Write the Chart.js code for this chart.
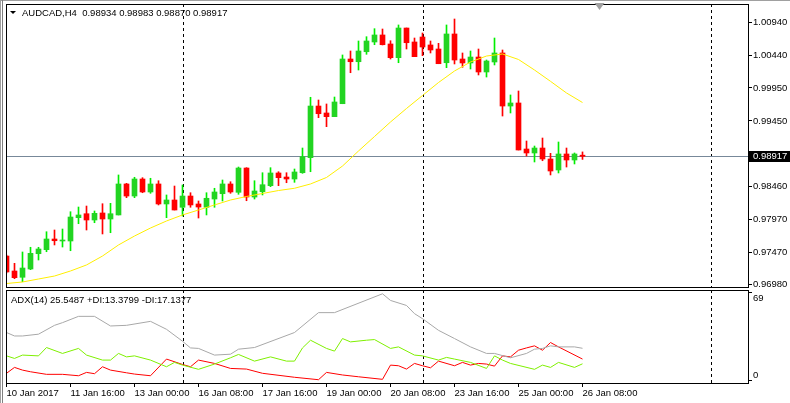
<!DOCTYPE html>
<html>
<head>
<meta charset="utf-8">
<script src="https://cdn.jsdelivr.net/npm/chart.js@4.4.1/dist/chart.umd.min.js"></script>
<style>
  body { margin: 0; background: #fff; width: 790px; height: 403px; overflow: hidden; position: relative; }
  canvas { position: absolute; left: 0; }
  #grafico { top: 0; }
  #graficoAdx { top: 286px; }
  .borda { position: absolute; }
</style>
</head>
<body>
<div class="borda" style="left:0;top:0;width:790px;height:1px;background:#a0a0a0"></div>
<div class="borda" style="left:0;top:0;width:1px;height:403px;background:#a0a0a0"></div>
<div class="borda" style="left:2px;top:0;width:1px;height:403px;background:#808080"></div>
<canvas id="grafico" width="790" height="300"></canvas>
<canvas id="graficoAdx" width="790" height="117"></canvas>
<script>
// AUDCAD H4, barras de 10 Jan 08:00 ate 26 Jan 08:00
const simbolo = "AUDCAD,H4";

const opens = [0.97411, 0.97185, 0.97090, 0.97215, 0.97446, 0.97507, 0.97668, 0.97638, 0.97638, 0.97990,
  0.98050, 0.97955, 0.98061, 0.97970, 0.98031, 0.98499, 0.98317, 0.98574, 0.98378, 0.98499,
  0.98197, 0.98257, 0.98147, 0.98317, 0.98197, 0.98147, 0.98272, 0.98352, 0.98499, 0.98373,
  0.98740, 0.98302, 0.98382, 0.98473, 0.98665, 0.98604, 0.98574, 0.98669, 0.98896, 0.99676,
  0.99571, 0.99515, 0.99711, 1.00386, 1.00345, 1.00496, 1.00643, 1.00749, 1.00613, 1.00406,
  1.00854, 1.00643, 1.00718, 1.00598, 1.00537, 1.00330, 1.00764, 1.00386, 1.00326, 1.00416,
  1.00190, 1.00341, 1.00477, 0.99676, 0.99722, 0.99027, 0.98967, 0.99042, 0.98876, 0.98710,
  0.98952, 0.98861, 0.98934];
const highs = [0.97427, 0.97301, 0.97472, 0.97543, 0.97543, 0.97778, 0.97804, 0.97819, 0.98080, 0.98151,
  0.98166, 0.98091, 0.98201, 0.98207, 0.98635, 0.98509, 0.98600, 0.98594, 0.98585, 0.98548,
  0.98333, 0.98468, 0.98484, 0.98367, 0.98242, 0.98367, 0.98434, 0.98559, 0.98533, 0.98755,
  0.98745, 0.98548, 0.98669, 0.98745, 0.98684, 0.98669, 0.98725, 0.99042, 0.99808, 0.99767,
  0.99707, 0.99812, 1.00447, 1.00507, 1.00658, 1.00723, 1.00844, 1.00839, 1.00662, 1.00900,
  1.00854, 1.00703, 1.00779, 1.00658, 1.00623, 1.00900, 1.00990, 1.00477, 1.00507, 1.00537,
  1.00371, 1.00703, 1.00522, 0.99843, 0.99903, 0.99148, 0.99072, 0.99193, 0.98962, 0.99133,
  0.99042, 0.98967, 0.98983];
const lows = [0.97155, 0.97069, 0.97023, 0.97205, 0.97351, 0.97476, 0.97578, 0.97547, 0.97491, 0.97899,
  0.97804, 0.97914, 0.97744, 0.97763, 0.98031, 0.98292, 0.98292, 0.98367, 0.98358, 0.98182,
  0.97990, 0.98106, 0.98015, 0.98147, 0.97985, 0.98031, 0.98147, 0.98242, 0.98358, 0.98343,
  0.98246, 0.98272, 0.98333, 0.98458, 0.98473, 0.98518, 0.98524, 0.98660, 0.98684, 0.99500,
  0.99364, 0.99515, 0.99711, 1.00179, 1.00220, 1.00457, 1.00602, 1.00598, 1.00386, 1.00330,
  1.00537, 1.00421, 1.00436, 1.00477, 1.00315, 1.00255, 1.00311, 1.00261, 1.00235, 1.00145,
  1.00114, 1.00296, 0.99525, 0.99571, 0.99012, 0.98921, 0.98831, 0.98850, 0.98635, 0.98665,
  0.98755, 0.98801, 0.98870];
const closes = [0.97170, 0.97084, 0.97230, 0.97452, 0.97517, 0.97668, 0.97642, 0.97653, 0.98000, 0.98031,
  0.97955, 0.98056, 0.97970, 0.98050, 0.98499, 0.98317, 0.98574, 0.98378, 0.98499, 0.98197,
  0.98257, 0.98106, 0.98317, 0.98182, 0.98151, 0.98283, 0.98378, 0.98499, 0.98378, 0.98740,
  0.98302, 0.98393, 0.98488, 0.98665, 0.98594, 0.98574, 0.98680, 0.98911, 0.99676, 0.99560,
  0.99515, 0.99737, 1.00386, 1.00345, 1.00507, 1.00658, 1.00749, 1.00602, 1.00406, 1.00854,
  1.00632, 1.00421, 1.00567, 1.00522, 1.00315, 1.00764, 1.00371, 1.00326, 1.00416, 1.00190,
  1.00356, 1.00477, 0.99676, 0.99722, 0.99012, 0.98967, 0.99042, 0.98876, 0.98695, 0.98952,
  0.98861, 0.98952, 0.98917];

// media movel (linha amarela), lida a cada 2 barras
const maBars = [0, 2, 4, 6, 8, 10, 12, 14, 16, 18, 20, 22, 24, 26, 28, 30, 32, 34, 36,
  38, 40, 42, 44, 46, 48, 50, 52, 54, 56, 58, 60, 62, 64, 66, 68, 70, 72];
const maValues = [0.96996, 0.97019, 0.97064, 0.97109, 0.97185, 0.97276, 0.97411, 0.97578, 0.97713, 0.97834,
  0.97940, 0.98031, 0.98106, 0.98182, 0.98257, 0.98310, 0.98355, 0.98400, 0.98434,
  0.98499, 0.98597, 0.98770, 0.98997, 0.99216, 0.99435, 0.99639, 0.99835, 1.00031, 1.00205,
  1.00341, 1.00431, 1.00462, 1.00379, 1.00220, 1.00049, 0.99873, 0.99729];

// ADX(14)
const adxBars = [0, 1, 2, 4, 6, 7, 9, 11, 13, 15, 18, 20, 22, 23, 24, 26, 28, 29, 31, 36,
  39, 41, 47, 48, 50, 51, 52, 54, 56, 58, 60, 61, 63, 65, 66, 67, 68, 69, 71, 72];
const adxValues = [37.8, 35.1, 35.1, 36.5, 43.4, 45.5, 50.4, 50.4, 42.9, 43.4, 46.5, 40.3, 31.0, 25.8, 25.4, 20.2, 20.9, 24.8, 26.1, 37.8,
  53.3, 53.3, 68.0, 62.8, 58.9, 52.5, 48.6, 39.5, 33.1, 26.6, 21.5, 21.5, 18.1, 21.5, 24.8, 25.4, 27.4, 26.6, 26.6, 25.5];
const plusDiBars = [0, 1, 2, 4, 5, 7, 9, 10, 12, 13, 14, 15, 16, 18, 20, 21, 22, 24, 26, 28,
  29, 31, 33, 35, 36, 37, 38, 40, 41, 42, 43, 45, 46, 48, 49, 51, 52, 54, 55, 56,
  58, 60, 61, 62, 63, 66, 67, 68, 69, 71, 72];
const plusDiValues = [19.6, 17.6, 20.2, 19.6, 26.1, 21.5, 25.4, 20.2, 16.3, 16.3, 21.5, 18.8, 19.6, 16.3, 11.1, 14.5, 12.4, 9.1, 13.2, 18.1,
  20.7, 15.5, 18.8, 15.5, 15.5, 25.8, 31.8, 25.4, 23.3, 33.1, 30.5, 31.8, 32.3, 25.4, 26.6, 20.2, 19.6, 16.3, 18.4, 17.1,
  14.5, 9.8, 19.6, 16.3, 13.7, 9.1, 12.4, 10.6, 14.5, 10.6, 13.4];
const minusDiBars = [0, 1, 2, 3, 5, 7, 9, 10, 11, 12, 13, 15, 16, 18, 20, 22, 23, 24, 26, 28,
  30, 32, 36, 39, 40, 42, 44, 47, 48, 49, 50, 51, 52, 53, 54, 56, 57, 58, 59, 60,
  61, 62, 63, 64, 65, 66, 67, 68, 69, 72];
const minusDiValues = [6.0, 10.6, 8.5, 7.2, 5.2, 5.2, 4.1, 6.7, 5.7, 11.1, 8.5, 6.4, 5.4, 4.1, 17.1, 12.9, 11.1, 16.3, 13.7, 9.8,
  9.3, 6.0, 2.9, 1.0, 6.7, 4.7, 3.3, 1.3, 12.4, 11.9, 9.3, 13.7, 11.9, 10.3, 15.5, 11.9, 14.5, 12.4, 13.7, 13.2,
  11.6, 19.6, 18.8, 24.0, 25.8, 27.4, 24.0, 30.0, 26.6, 17.1];
const adxTexto = "ADX(14) 25.5487 +DI:13.3799 -DI:17.1377";
const adxEscala = [0, 69];

// eixos
const priceTicks = [1.0094, 1.0044, 0.9995, 0.9945, 0.9846, 0.9797, 0.9747, 0.9698];
const timeTickBars = [0, 8, 16, 24, 32, 40, 48, 56, 64, 72];
const timeLabels = ["10 Jan 2017", "11 Jan 16:00", "13 Jan 00:00", "16 Jan 08:00", "17 Jan 16:00",
  "19 Jan 00:00", "20 Jan 08:00", "23 Jan 16:00", "25 Jan 00:00", "26 Jan 08:00"];
const separadores = [22, 52, 88]; // linhas tracejadas verticais

const fonte = "'Liberation Sans', Arial, sans-serif";
Chart.defaults.font.family = fonte;
Chart.defaults.font.size = 9.5;
Chart.defaults.color = "#000";

const corAltaCorpo = "#22d422";
const corAltaPavio = "#00ee00";
const corBaixa = "#ff0000";

const xMin = -0.0625;
const xMax = 92.6875;

const ultimo = closes.length - 1;
const alta = opens.map((o, i) => closes[i] >= o);

function pontos(bars, vals) {
  return bars.map((b, k) => ({ x: b, y: vals[k] }));
}

function desenharSeparadores(chart) {
  const { ctx, chartArea } = chart;
  const x = chart.scales.x;
  ctx.save();
  ctx.strokeStyle = "#000";
  ctx.lineWidth = 1;
  ctx.setLineDash([3, 3]);
  separadores.forEach((b) => {
    const px = Math.round(x.getPixelForValue(b)) + 0.5;
    ctx.beginPath();
    ctx.moveTo(px, chartArea.top);
    ctx.lineTo(px, chartArea.bottom);
    ctx.stroke();
  });
  ctx.restore();
}

function desenharMoldura(chart) {
  const { ctx, chartArea } = chart;
  ctx.save();
  ctx.strokeStyle = "#000";
  ctx.lineWidth = 1;
  ctx.strokeRect(chartArea.left + 0.5, chartArea.top + 0.5, chartArea.right - chartArea.left, chartArea.bottom - chartArea.top);
  ctx.restore();
}

const pluginPreco = {
  id: "preco",
  beforeDatasetsDraw(chart) {
    desenharSeparadores(chart);
    // linha do preco atual
    const { ctx, chartArea } = chart;
    const py = Math.round(chart.scales.y.getPixelForValue(closes[ultimo])) + 0.5;
    ctx.save();
    ctx.strokeStyle = "#778899";
    ctx.lineWidth = 1;
    ctx.beginPath();
    ctx.moveTo(chartArea.left, py);
    ctx.lineTo(chartArea.right, py);
    ctx.stroke();
    ctx.restore();
  },
  afterDraw(chart) {
    desenharMoldura(chart);
    const { ctx, chartArea } = chart;
    ctx.save();
    // cabecalho
    ctx.fillStyle = "#000";
    ctx.beginPath();
    ctx.moveTo(10, 11);
    ctx.lineTo(16, 11);
    ctx.lineTo(13, 14);
    ctx.closePath();
    ctx.fill();
    ctx.font = "9.5px " + fonte;
    ctx.textBaseline = "middle";
    const ohlc = [opens, highs, lows, closes].map((a) => a[ultimo].toFixed(5)).join(" ");
    ctx.fillText(simbolo + "  " + ohlc, 22, 13);

    // marcador de deslocamento do grafico
    const sx = Math.round(chart.scales.x.getPixelForValue(ultimo + 2)) + 0.5;
    ctx.fillStyle = "#a0a0a0";
    ctx.beginPath();
    ctx.moveTo(sx - 5, chartArea.top - 1);
    ctx.lineTo(sx + 5, chartArea.top - 1);
    ctx.lineTo(sx, chartArea.top + 6);
    ctx.closePath();
    ctx.fill();

    // etiqueta do preco atual
    const py = Math.round(chart.scales.y.getPixelForValue(closes[ultimo]));
    ctx.fillStyle = "#000";
    ctx.fillRect(chartArea.right + 1, py - 5, 41, 11);
    ctx.fillStyle = "#fff";
    ctx.fillText(closes[ultimo].toFixed(5), chartArea.right + 5, py + 0.5);
    ctx.restore();
  },
};

new Chart(document.getElementById("grafico"), {
  type: "bar",
  data: {
    datasets: [
      {
        type: "line",
        label: "MA",
        data: pontos(maBars, maValues),
        borderColor: "#ffee00",
        borderWidth: 1,
        pointRadius: 0,
        tension: 0,
        order: 1,
      },
      {
        label: "Corpo",
        data: opens.map((o, i) => ({ x: i, y: [o, closes[i]] })),
        backgroundColor: alta.map((a) => (a ? corAltaCorpo : corBaixa)),
        barThickness: 5,
        minBarLength: 1,
        grouped: false,
        order: 2,
      },
      {
        label: "Pavio",
        data: lows.map((l, i) => ({ x: i, y: [l, highs[i]] })),
        backgroundColor: alta.map((a) => (a ? corAltaPavio : corBaixa)),
        barThickness: 1,
        grouped: false,
        order: 3,
      },
    ],
  },
  plugins: [pluginPreco],
  options: {
    responsive: false,
    animation: false,
    devicePixelRatio: 1,
    layout: { padding: { left: 6, top: 4, right: 0, bottom: 13 } },
    plugins: { legend: { display: false }, tooltip: { enabled: false } },
    scales: {
      x: { type: "linear", min: xMin, max: xMax, offset: false, display: false },
      y: {
        position: "right",
        min: 0.969433,
        max: 1.012166,
        afterFit: (s) => {
          s.width = 42;
          s.paddingTop = 0;
          s.paddingBottom = 0;
        },
        afterBuildTicks: (s) => {
          s.ticks = priceTicks.map((v) => ({ value: v }));
        },
        ticks: { callback: (v) => v.toFixed(5), padding: 1, color: "#000" },
        grid: { drawOnChartArea: false, color: "#000", tickLength: 4 },
        border: { display: false },
      },
    },
  },
});

const pluginAdx = {
  id: "adx",
  beforeDatasetsDraw(chart) {
    desenharSeparadores(chart);
  },
  afterDraw(chart) {
    desenharMoldura(chart);
    const { ctx, chartArea } = chart;
    ctx.save();
    ctx.fillStyle = "#000";
    ctx.font = "9.5px " + fonte;
    ctx.textBaseline = "middle";
    ctx.fillText(adxTexto, chartArea.left + 5, chartArea.top + 10);
    ctx.restore();
  },
};

new Chart(document.getElementById("graficoAdx"), {
  type: "line",
  data: {
    datasets: [
      { label: "ADX", data: pontos(adxBars, adxValues), borderColor: "#a8a8a8" },
      { label: "+DI", data: pontos(plusDiBars, plusDiValues), borderColor: "#7ff000" },
      { label: "-DI", data: pontos(minusDiBars, minusDiValues), borderColor: "#ff0000" },
    ],
  },
  plugins: [pluginAdx],
  options: {
    responsive: false,
    animation: false,
    devicePixelRatio: 1,
    elements: { line: { borderWidth: 1, tension: 0 }, point: { radius: 0 } },
    layout: { padding: { left: 6, top: 4, right: 0, bottom: 0 } },
    plugins: { legend: { display: false }, tooltip: { enabled: false } },
    scales: {
      x: {
        type: "linear",
        min: xMin,
        max: xMax,
        afterFit: (s) => {
          s.height = 20;
          s.paddingLeft = 0;
          s.paddingRight = 0;
        },
        afterBuildTicks: (s) => {
          s.ticks = timeTickBars.map((v) => ({ value: v }));
        },
        ticks: {
          callback: (v, i) => timeLabels[i],
          align: "start",
          autoSkip: false,
          maxRotation: 0,
          padding: 1,
          color: "#000",
        },
        grid: { drawOnChartArea: false, color: "#000", tickLength: 4 },
        border: { display: false },
      },
      y: {
        position: "right",
        min: -1.56,
        max: 70.95,
        afterFit: (s) => {
          s.width = 42;
          s.paddingTop = 0;
          s.paddingBottom = 0;
        },
        afterBuildTicks: (s) => {
          s.ticks = adxEscala.map((v) => ({ value: v }));
        },
        // rotulo do topo fica abaixo da marca, o de baixo fica acima
        ticks: { callback: (v) => (v > 0 ? ["", String(v)] : [String(v), ""]), padding: 1, color: "#000" },
        grid: { drawOnChartArea: false, color: "#000", tickLength: 4 },
        border: { display: false },
      },
    },
  },
});
</script>
</body>
</html>
